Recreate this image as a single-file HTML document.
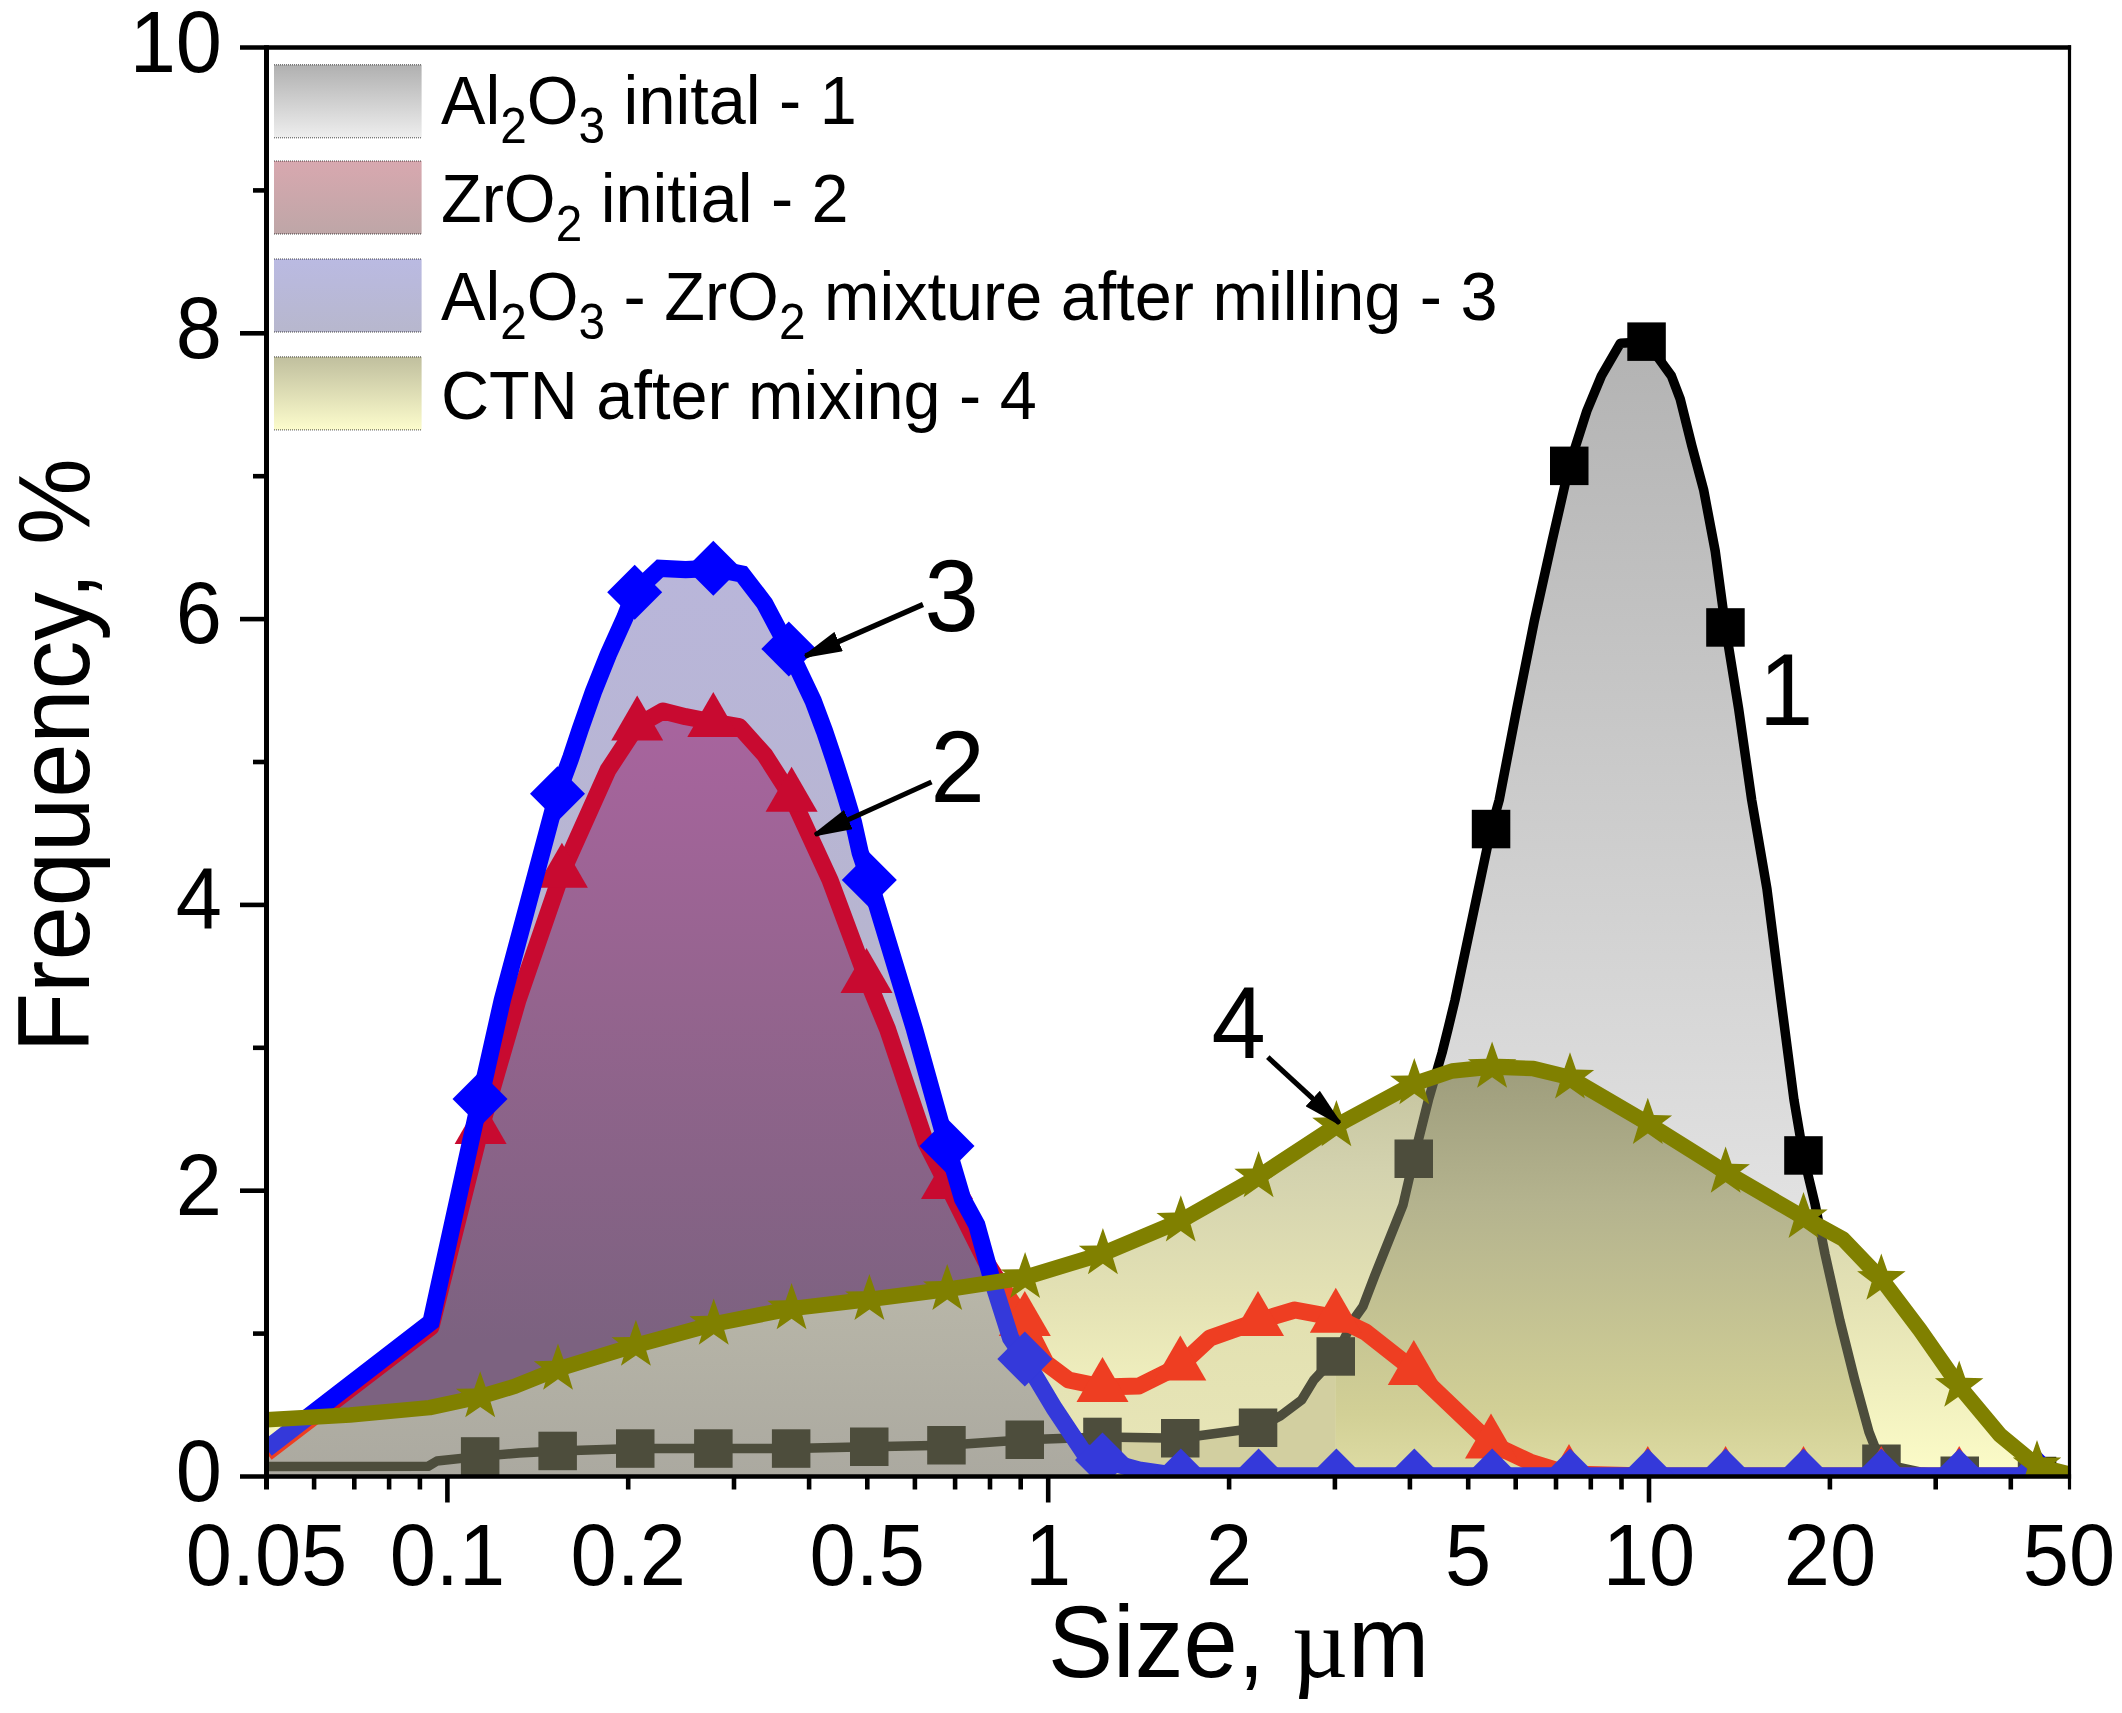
<!DOCTYPE html>
<html><head><meta charset="utf-8"><title>Particle size distribution</title>
<style>
html,body{margin:0;padding:0;background:#fff;}
body{width:2122px;height:1713px;overflow:hidden;}
svg{display:block;}
text{font-family:"Liberation Sans",sans-serif;fill:#000;}
.tk{font-size:83px;}
.lg{font-size:66.6px;}
.sb{font-size:47.7px;}
.an{font-size:97.5px;}
.mu{font-family:"Liberation Serif",serif;}
</style></head><body>
<svg width="2122" height="1713" viewBox="0 0 2122 1713">
<defs>
<clipPath id="plot"><rect x="266.5" y="47.5" width="1802.5" height="1429"/></clipPath>
<linearGradient id="g1" gradientUnits="userSpaceOnUse" x1="0" y1="342" x2="0" y2="1476"><stop offset="0" stop-color="#b3b3b3"/><stop offset="1" stop-color="#f0f0f0"/></linearGradient>
<linearGradient id="g2" gradientUnits="userSpaceOnUse" x1="0" y1="715" x2="0" y2="1340"><stop offset="0" stop-color="#a8649e"/><stop offset="0.46" stop-color="#94648e"/><stop offset="1" stop-color="#7c6280"/></linearGradient>
<linearGradient id="g3" gradientUnits="userSpaceOnUse" x1="0" y1="568" x2="0" y2="1300"><stop offset="0" stop-color="#b9b6da"/><stop offset="1" stop-color="#b5b4c6"/></linearGradient>
<linearGradient id="g4" gradientUnits="userSpaceOnUse" x1="0" y1="1067" x2="0" y2="1476"><stop offset="0" stop-color="#c4c39e"/><stop offset="0.25" stop-color="#d3d2ae"/><stop offset="0.57" stop-color="#e4e2b4"/><stop offset="1" stop-color="#fcfcc8"/></linearGradient>
<linearGradient id="g14" gradientUnits="userSpaceOnUse" x1="0" y1="1067" x2="0" y2="1476"><stop offset="0" stop-color="#9e9d7c"/><stop offset="0.33" stop-color="#b4b38e"/><stop offset="0.85" stop-color="#d2d096"/><stop offset="1" stop-color="#dedca4"/></linearGradient>
<linearGradient id="g2b" gradientUnits="userSpaceOnUse" x1="0" y1="1300" x2="0" y2="1476"><stop offset="0" stop-color="#e2e0b0"/><stop offset="1" stop-color="#e8e6b8"/></linearGradient>
<linearGradient id="g3b" gradientUnits="userSpaceOnUse" x1="0" y1="1290" x2="0" y2="1476"><stop offset="0" stop-color="#b8b6a8"/><stop offset="1" stop-color="#aba9a0"/></linearGradient>
<linearGradient id="l1" x1="0" y1="0" x2="0" y2="1"><stop offset="0" stop-color="#b0b0b0"/><stop offset="1" stop-color="#eeeeee"/></linearGradient>
<linearGradient id="l2" x1="0" y1="0" x2="0" y2="1"><stop offset="0" stop-color="#d8a8af"/><stop offset="1" stop-color="#bea6a7"/></linearGradient>
<linearGradient id="l3" x1="0" y1="0" x2="0" y2="1"><stop offset="0" stop-color="#babae2"/><stop offset="1" stop-color="#b7b7cd"/></linearGradient>
<linearGradient id="l4" x1="0" y1="0" x2="0" y2="1"><stop offset="0" stop-color="#c0bf9e"/><stop offset="1" stop-color="#fcfccc"/></linearGradient>
<marker id="ah" viewBox="0 0 37 21" refX="36" refY="10.5" markerWidth="37" markerHeight="21" markerUnits="userSpaceOnUse" orient="auto"><path d="M0,0 L37,9 L37,12 L0,21 Z" fill="#000"/></marker>
</defs>
<rect width="2122" height="1713" fill="#fff"/>

<defs>
<clipPath id="ab4"><path d="M266.5,42.5 L2074.0,42.5 L2069.0,1474.0 L2037.6,1466.0 L2000.0,1435.0 L1959.1,1386.0 L1920.0,1330.0 L1882.2,1280.0 L1843.0,1239.0 L1803.4,1217.4 L1725.5,1172.0 L1647.3,1123.0 L1569.1,1077.3 L1533.5,1068.6 L1491.1,1067.0 L1452.0,1071.0 L1413.8,1083.8 L1336.5,1125.5 L1258.0,1177.0 L1180.3,1221.0 L1102.0,1254.0 L1024.8,1277.5 L946.5,1289.5 L868.7,1299.5 L791.0,1308.6 L713.2,1324.2 L635.2,1345.4 L556.9,1369.4 L514.5,1386.4 L479.1,1397.0 L429.6,1407.6 L350.0,1415.0 L266.5,1419.7 Z"/></clipPath>
<clipPath id="be4"><path d="M266.5,1476.5 L266.5,1419.7 L350.0,1415.0 L429.6,1407.6 L479.1,1397.0 L514.5,1386.4 L556.9,1369.4 L635.2,1345.4 L713.2,1324.2 L791.0,1308.6 L868.7,1299.5 L946.5,1289.5 L1024.8,1277.5 L1102.0,1254.0 L1180.3,1221.0 L1258.0,1177.0 L1336.5,1125.5 L1413.8,1083.8 L1452.0,1071.0 L1491.1,1067.0 L1533.5,1068.6 L1569.1,1077.3 L1647.3,1123.0 L1725.5,1172.0 L1803.4,1217.4 L1843.0,1239.0 L1882.2,1280.0 L1920.0,1330.0 L1959.1,1386.0 L2000.0,1435.0 L2037.6,1466.0 L2069.0,1474.0 L2069.0,1476.5 Z"/></clipPath>
<clipPath id="in3"><path d="M266.5,1476.5 L266.5,1449.0 L431.0,1322.0 L480.0,1099.0 L502.3,1000.0 L557.5,793.7 L570.9,757.5 L580.2,729.4 L593.3,692.1 L608.2,654.7 L625.0,617.4 L634.7,592.3 L660.0,568.3 L685.6,569.7 L713.3,568.3 L742.0,574.0 L764.7,603.6 L776.0,625.0 L788.8,648.9 L798.7,670.4 L813.1,700.7 L824.5,731.1 L834.7,761.5 L844.3,791.8 L853.4,822.2 L860.2,852.6 L869.3,880.0 L914.6,1029.6 L947.0,1146.0 L962.6,1199.0 L976.7,1224.8 L990.8,1275.7 L1010.6,1338.0 L1024.8,1359.0 L1054.5,1408.6 L1082.7,1451.0 L1102.5,1460.0 L1139.0,1470.0 L1180.3,1476.0 L2069.0,1476.0 L2069.0,1476.5 Z"/></clipPath>
</defs>
<g clip-path="url(#plot)">
<g clip-path="url(#ab4)">
<path d="M266.5,1476.5 L266.5,1466.5 L428.0,1466.3 L437.0,1461.0 L480.2,1456.4 L519.0,1453.0 L557.6,1450.9 L635.3,1448.6 L713.4,1448.6 L791.1,1448.6 L869.3,1446.8 L946.5,1445.3 L1024.8,1439.7 L1102.5,1436.9 L1180.3,1438.3 L1258.0,1427.8 L1280.6,1415.7 L1301.6,1400.0 L1313.8,1380.0 L1335.7,1356.4 L1354.0,1319.0 L1362.9,1306.6 L1375.0,1275.0 L1389.0,1240.0 L1403.0,1205.0 L1413.7,1158.7 L1428.4,1100.0 L1442.0,1053.0 L1448.0,1029.0 L1455.0,1000.0 L1491.1,829.0 L1499.2,800.0 L1516.8,708.6 L1534.3,621.0 L1551.8,542.3 L1569.3,465.8 L1586.8,411.0 L1601.4,375.9 L1620.4,343.2 L1646.6,341.7 L1671.4,375.9 L1680.2,399.0 L1691.9,446.0 L1703.6,489.7 L1715.2,551.0 L1725.5,627.5 L1738.6,708.6 L1751.7,800.0 L1766.9,888.5 L1781.0,1000.0 L1794.0,1100.0 L1803.4,1155.5 L1815.0,1204.0 L1825.0,1254.0 L1840.0,1321.0 L1854.5,1379.0 L1869.0,1432.0 L1881.4,1463.7 L1920.0,1472.0 L1959.8,1475.7 L2037.0,1476.0 L2069.0,1476.0 L2069.0,1476.5 Z" fill="url(#g1)"/>
<path d="M266.5,1476.5 L266.5,1449.0 L431.0,1322.0 L480.0,1099.0 L502.3,1000.0 L557.5,793.7 L570.9,757.5 L580.2,729.4 L593.3,692.1 L608.2,654.7 L625.0,617.4 L634.7,592.3 L660.0,568.3 L685.6,569.7 L713.3,568.3 L742.0,574.0 L764.7,603.6 L776.0,625.0 L788.8,648.9 L798.7,670.4 L813.1,700.7 L824.5,731.1 L834.7,761.5 L844.3,791.8 L853.4,822.2 L860.2,852.6 L869.3,880.0 L914.6,1029.6 L947.0,1146.0 L962.6,1199.0 L976.7,1224.8 L990.8,1275.7 L1010.6,1338.0 L1024.8,1359.0 L1054.5,1408.6 L1082.7,1451.0 L1102.5,1460.0 L1139.0,1470.0 L1180.3,1476.0 L2069.0,1476.0 L2069.0,1476.5 Z" fill="url(#g3)"/>
<path d="M266.5,1476.5 L266.5,1453.0 L431.0,1327.0 L480.6,1129.0 L518.0,1000.0 L561.9,872.8 L608.0,770.0 L637.2,725.6 L663.0,711.0 L685.6,716.7 L713.3,722.0 L739.3,726.6 L764.7,754.9 L791.6,796.8 L830.0,880.0 L866.5,978.0 L887.7,1029.6 L925.8,1142.7 L947.0,1184.0 L985.0,1260.0 L1009.0,1298.0 L1024.8,1321.0 L1046.0,1363.0 L1068.6,1380.0 L1102.5,1387.0 L1139.0,1386.0 L1180.3,1365.5 L1210.0,1338.0 L1258.0,1321.0 L1294.8,1310.0 L1335.8,1317.7 L1365.5,1332.0 L1413.8,1370.0 L1491.0,1443.6 L1530.0,1462.0 L1569.0,1474.0 L1647.0,1476.0 L2069.0,1476.0 L2069.0,1476.5 Z" fill="url(#g2)"/>
</g>
<g clip-path="url(#be4)">
<path d="M266.5,1476.5 L266.5,1419.7 L350.0,1415.0 L429.6,1407.6 L479.1,1397.0 L514.5,1386.4 L556.9,1369.4 L635.2,1345.4 L713.2,1324.2 L791.0,1308.6 L868.7,1299.5 L946.5,1289.5 L1024.8,1277.5 L1102.0,1254.0 L1180.3,1221.0 L1258.0,1177.0 L1336.5,1125.5 L1413.8,1083.8 L1452.0,1071.0 L1491.1,1067.0 L1533.5,1068.6 L1569.1,1077.3 L1647.3,1123.0 L1725.5,1172.0 L1803.4,1217.4 L1843.0,1239.0 L1882.2,1280.0 L1920.0,1330.0 L1959.1,1386.0 L2000.0,1435.0 L2037.6,1466.0 L2069.0,1474.0 L2069.0,1476.5 Z" fill="url(#g4)"/>
<path d="M266.5,1476.5 L266.5,1453.0 L431.0,1327.0 L480.6,1129.0 L518.0,1000.0 L561.9,872.8 L608.0,770.0 L637.2,725.6 L663.0,711.0 L685.6,716.7 L713.3,722.0 L739.3,726.6 L764.7,754.9 L791.6,796.8 L830.0,880.0 L866.5,978.0 L887.7,1029.6 L925.8,1142.7 L947.0,1184.0 L985.0,1260.0 L1009.0,1298.0 L1024.8,1321.0 L1046.0,1363.0 L1068.6,1380.0 L1102.5,1387.0 L1139.0,1386.0 L1180.3,1365.5 L1210.0,1338.0 L1258.0,1321.0 L1294.8,1310.0 L1335.8,1317.7 L1365.5,1332.0 L1413.8,1370.0 L1491.0,1443.6 L1530.0,1462.0 L1569.0,1474.0 L1647.0,1476.0 L2069.0,1476.0 L2069.0,1476.5 Z" fill="url(#g2b)"/>
<path d="M266.5,1476.5 L266.5,1449.0 L431.0,1322.0 L480.0,1099.0 L502.3,1000.0 L557.5,793.7 L570.9,757.5 L580.2,729.4 L593.3,692.1 L608.2,654.7 L625.0,617.4 L634.7,592.3 L660.0,568.3 L685.6,569.7 L713.3,568.3 L742.0,574.0 L764.7,603.6 L776.0,625.0 L788.8,648.9 L798.7,670.4 L813.1,700.7 L824.5,731.1 L834.7,761.5 L844.3,791.8 L853.4,822.2 L860.2,852.6 L869.3,880.0 L914.6,1029.6 L947.0,1146.0 L962.6,1199.0 L976.7,1224.8 L990.8,1275.7 L1010.6,1338.0 L1024.8,1359.0 L1054.5,1408.6 L1082.7,1451.0 L1102.5,1460.0 L1139.0,1470.0 L1180.3,1476.0 L2069.0,1476.0 L2069.0,1476.5 Z" fill="url(#g3b)"/>
<path d="M1102.5,1476.5 L1102.5,1436.9 L1180.3,1438.3 L1258.0,1427.8 L1280.6,1415.7 L1301.6,1400.0 L1313.8,1380.0 L1335.7,1356.4 L1335.7,1476.5 Z" fill="#d2cfa0"/>
<path d="M1335.7,1476.5 L1335.7,1356.4 L1354.0,1319.0 L1362.9,1306.6 L1375.0,1275.0 L1389.0,1240.0 L1403.0,1205.0 L1413.7,1158.7 L1428.4,1100.0 L1442.0,1053.0 L1448.0,1029.0 L1455.0,1000.0 L1491.1,829.0 L1499.2,800.0 L1516.8,708.6 L1534.3,621.0 L1551.8,542.3 L1569.3,465.8 L1586.8,411.0 L1601.4,375.9 L1620.4,343.2 L1646.6,341.7 L1671.4,375.9 L1680.2,399.0 L1691.9,446.0 L1703.6,489.7 L1715.2,551.0 L1725.5,627.5 L1738.6,708.6 L1751.7,800.0 L1766.9,888.5 L1781.0,1000.0 L1794.0,1100.0 L1803.4,1155.5 L1815.0,1204.0 L1825.0,1254.0 L1840.0,1321.0 L1854.5,1379.0 L1869.0,1432.0 L1881.4,1463.7 L1920.0,1472.0 L1959.8,1475.7 L2037.0,1476.0 L2069.0,1476.0 L2069.0,1476.5 Z" fill="url(#g14)"/>
</g>
<g clip-path="url(#ab4)">
<polyline points="266.5,1466.5 428.0,1466.3 437.0,1461.0 480.2,1456.4 519.0,1453.0 557.6,1450.9 635.3,1448.6 713.4,1448.6 791.1,1448.6 869.3,1446.8 946.5,1445.3 1024.8,1439.7 1102.5,1436.9 1180.3,1438.3 1258.0,1427.8 1280.6,1415.7 1301.6,1400.0 1313.8,1380.0 1335.7,1356.4 1354.0,1319.0 1362.9,1306.6 1375.0,1275.0 1389.0,1240.0 1403.0,1205.0 1413.7,1158.7 1428.4,1100.0 1442.0,1053.0 1448.0,1029.0 1455.0,1000.0 1491.1,829.0 1499.2,800.0 1516.8,708.6 1534.3,621.0 1551.8,542.3 1569.3,465.8 1586.8,411.0 1601.4,375.9 1620.4,343.2 1646.6,341.7 1671.4,375.9 1680.2,399.0 1691.9,446.0 1703.6,489.7 1715.2,551.0 1725.5,627.5 1738.6,708.6 1751.7,800.0 1766.9,888.5 1781.0,1000.0 1794.0,1100.0 1803.4,1155.5 1815.0,1204.0 1825.0,1254.0 1840.0,1321.0 1854.5,1379.0 1869.0,1432.0 1881.4,1463.7 1920.0,1472.0 1959.8,1475.7 2037.0,1476.0 2069.0,1476.0" fill="none" stroke="#000000" stroke-width="9.5" stroke-linejoin="round"/>
<rect x="460.9" y="1437.2" width="38.5" height="38.5" fill="#000000"/>
<rect x="538.4" y="1431.7" width="38.5" height="38.5" fill="#000000"/>
<rect x="616.0" y="1429.3" width="38.5" height="38.5" fill="#000000"/>
<rect x="694.1" y="1429.3" width="38.5" height="38.5" fill="#000000"/>
<rect x="771.9" y="1429.3" width="38.5" height="38.5" fill="#000000"/>
<rect x="850.0" y="1427.5" width="38.5" height="38.5" fill="#000000"/>
<rect x="927.2" y="1426.0" width="38.5" height="38.5" fill="#000000"/>
<rect x="1005.5" y="1420.5" width="38.5" height="38.5" fill="#000000"/>
<rect x="1083.2" y="1417.7" width="38.5" height="38.5" fill="#000000"/>
<rect x="1161.0" y="1419.0" width="38.5" height="38.5" fill="#000000"/>
<rect x="1238.8" y="1408.5" width="38.5" height="38.5" fill="#000000"/>
<rect x="1316.5" y="1337.2" width="38.5" height="38.5" fill="#000000"/>
<rect x="1394.5" y="1139.5" width="38.5" height="38.5" fill="#000000"/>
<rect x="1471.8" y="809.8" width="38.5" height="38.5" fill="#000000"/>
<rect x="1550.0" y="446.6" width="38.5" height="38.5" fill="#000000"/>
<rect x="1627.3" y="322.4" width="38.5" height="38.5" fill="#000000"/>
<rect x="1706.2" y="608.2" width="38.5" height="38.5" fill="#000000"/>
<rect x="1784.2" y="1136.2" width="38.5" height="38.5" fill="#000000"/>
<rect x="1862.2" y="1444.5" width="38.5" height="38.5" fill="#000000"/>
<rect x="1940.5" y="1456.5" width="38.5" height="38.5" fill="#000000"/>
<rect x="2017.8" y="1456.8" width="38.5" height="38.5" fill="#000000"/>
<polyline points="266.5,1453.0 431.0,1327.0 480.6,1129.0 518.0,1000.0 561.9,872.8 608.0,770.0 637.2,725.6 663.0,711.0 685.6,716.7 713.3,722.0 739.3,726.6 764.7,754.9 791.6,796.8 830.0,880.0 866.5,978.0 887.7,1029.6 925.8,1142.7 947.0,1184.0 985.0,1260.0 1009.0,1298.0 1024.8,1321.0 1046.0,1363.0 1068.6,1380.0 1102.5,1387.0 1139.0,1386.0 1180.3,1365.5 1210.0,1338.0 1258.0,1321.0 1294.8,1310.0 1335.8,1317.7 1365.5,1332.0 1413.8,1370.0 1491.0,1443.6 1530.0,1462.0 1569.0,1474.0 1647.0,1476.0 2069.0,1476.0" fill="none" stroke="#c80a30" stroke-width="17" stroke-linejoin="round"/>
<polygon points="480.6,1099.0 454.6,1144.0 506.6,1144.0" fill="#c80a30"/>
<polygon points="561.9,842.8 535.9,887.8 587.9,887.8" fill="#c80a30"/>
<polygon points="637.2,695.6 611.2,740.6 663.2,740.6" fill="#c80a30"/>
<polygon points="713.3,692.0 687.3,737.0 739.3,737.0" fill="#c80a30"/>
<polygon points="791.6,766.8 765.6,811.8 817.6,811.8" fill="#c80a30"/>
<polygon points="866.5,948.0 840.5,993.0 892.5,993.0" fill="#c80a30"/>
<polygon points="947.0,1154.0 921.0,1199.0 973.0,1199.0" fill="#c80a30"/>
<polygon points="1024.8,1291.0 998.8,1336.0 1050.8,1336.0" fill="#c80a30"/>
<polygon points="1102.5,1357.0 1076.5,1402.0 1128.5,1402.0" fill="#c80a30"/>
<polygon points="1180.3,1335.5 1154.3,1380.5 1206.3,1380.5" fill="#c80a30"/>
<polygon points="1258.0,1291.0 1232.0,1336.0 1284.0,1336.0" fill="#c80a30"/>
<polygon points="1335.8,1287.7 1309.8,1332.7 1361.8,1332.7" fill="#c80a30"/>
<polygon points="1413.8,1340.0 1387.8,1385.0 1439.8,1385.0" fill="#c80a30"/>
<polygon points="1491.0,1413.6 1465.0,1458.6 1517.0,1458.6" fill="#c80a30"/>
<polygon points="1569.0,1444.0 1543.0,1489.0 1595.0,1489.0" fill="#c80a30"/>
<polygon points="1647.8,1446.0 1621.8,1491.0 1673.8,1491.0" fill="#c80a30"/>
<polygon points="1725.6,1446.0 1699.6,1491.0 1751.6,1491.0" fill="#c80a30"/>
<polygon points="1803.5,1446.0 1777.5,1491.0 1829.5,1491.0" fill="#c80a30"/>
<polygon points="1881.3,1446.0 1855.3,1491.0 1907.3,1491.0" fill="#c80a30"/>
<polygon points="1959.2,1446.0 1933.2,1491.0 1985.2,1491.0" fill="#c80a30"/>
<polygon points="2037.0,1446.0 2011.0,1491.0 2063.0,1491.0" fill="#c80a30"/>
<polyline points="266.5,1449.0 431.0,1322.0 480.0,1099.0 502.3,1000.0 557.5,793.7 570.9,757.5 580.2,729.4 593.3,692.1 608.2,654.7 625.0,617.4 634.7,592.3 660.0,568.3 685.6,569.7 713.3,568.3 742.0,574.0 764.7,603.6 776.0,625.0 788.8,648.9 798.7,670.4 813.1,700.7 824.5,731.1 834.7,761.5 844.3,791.8 853.4,822.2 860.2,852.6 869.3,880.0 914.6,1029.6 947.0,1146.0 962.6,1199.0 976.7,1224.8 990.8,1275.7 1010.6,1338.0 1024.8,1359.0 1054.5,1408.6 1082.7,1451.0 1102.5,1460.0 1139.0,1470.0 1180.3,1476.0 2069.0,1476.0" fill="none" stroke="#0000ff" stroke-width="17.3" stroke-linejoin="miter"/>
<polygon points="480.0,1071.5 507.5,1099.0 480.0,1126.5 452.5,1099.0" fill="#0000ff"/>
<polygon points="557.5,766.2 585.0,793.7 557.5,821.2 530.0,793.7" fill="#0000ff"/>
<polygon points="634.7,564.8 662.2,592.3 634.7,619.8 607.2,592.3" fill="#0000ff"/>
<polygon points="713.3,540.8 740.8,568.3 713.3,595.8 685.8,568.3" fill="#0000ff"/>
<polygon points="788.8,621.4 816.3,648.9 788.8,676.4 761.3,648.9" fill="#0000ff"/>
<polygon points="869.3,852.5 896.8,880.0 869.3,907.5 841.8,880.0" fill="#0000ff"/>
<polygon points="947.0,1118.5 974.5,1146.0 947.0,1173.5 919.5,1146.0" fill="#0000ff"/>
<polygon points="1024.8,1331.5 1052.3,1359.0 1024.8,1386.5 997.3,1359.0" fill="#0000ff"/>
<polygon points="1102.5,1432.5 1130.0,1460.0 1102.5,1487.5 1075.0,1460.0" fill="#0000ff"/>
<polygon points="1180.8,1448.5 1208.3,1476.0 1180.8,1503.5 1153.3,1476.0" fill="#0000ff"/>
<polygon points="1258.6,1448.5 1286.1,1476.0 1258.6,1503.5 1231.1,1476.0" fill="#0000ff"/>
<polygon points="1336.4,1448.5 1363.9,1476.0 1336.4,1503.5 1308.9,1476.0" fill="#0000ff"/>
<polygon points="1414.3,1448.5 1441.8,1476.0 1414.3,1503.5 1386.8,1476.0" fill="#0000ff"/>
<polygon points="1492.1,1448.5 1519.6,1476.0 1492.1,1503.5 1464.6,1476.0" fill="#0000ff"/>
<polygon points="1570.0,1448.5 1597.5,1476.0 1570.0,1503.5 1542.5,1476.0" fill="#0000ff"/>
<polygon points="1647.8,1448.5 1675.3,1476.0 1647.8,1503.5 1620.3,1476.0" fill="#0000ff"/>
<polygon points="1725.6,1448.5 1753.1,1476.0 1725.6,1503.5 1698.1,1476.0" fill="#0000ff"/>
<polygon points="1803.5,1448.5 1831.0,1476.0 1803.5,1503.5 1776.0,1476.0" fill="#0000ff"/>
<polygon points="1881.3,1448.5 1908.8,1476.0 1881.3,1503.5 1853.8,1476.0" fill="#0000ff"/>
<polygon points="1959.2,1448.5 1986.7,1476.0 1959.2,1503.5 1931.7,1476.0" fill="#0000ff"/>
<polygon points="2037.0,1448.5 2064.5,1476.0 2037.0,1503.5 2009.5,1476.0" fill="#0000ff"/>
</g>
<g clip-path="url(#be4)">
<polyline points="266.5,1466.5 428.0,1466.3 437.0,1461.0 480.2,1456.4 519.0,1453.0 557.6,1450.9 635.3,1448.6 713.4,1448.6 791.1,1448.6 869.3,1446.8 946.5,1445.3 1024.8,1439.7 1102.5,1436.9 1180.3,1438.3 1258.0,1427.8 1280.6,1415.7 1301.6,1400.0 1313.8,1380.0 1335.7,1356.4 1354.0,1319.0 1362.9,1306.6 1375.0,1275.0 1389.0,1240.0 1403.0,1205.0 1413.7,1158.7 1428.4,1100.0 1442.0,1053.0 1448.0,1029.0 1455.0,1000.0 1491.1,829.0 1499.2,800.0 1516.8,708.6 1534.3,621.0 1551.8,542.3 1569.3,465.8 1586.8,411.0 1601.4,375.9 1620.4,343.2 1646.6,341.7 1671.4,375.9 1680.2,399.0 1691.9,446.0 1703.6,489.7 1715.2,551.0 1725.5,627.5 1738.6,708.6 1751.7,800.0 1766.9,888.5 1781.0,1000.0 1794.0,1100.0 1803.4,1155.5 1815.0,1204.0 1825.0,1254.0 1840.0,1321.0 1854.5,1379.0 1869.0,1432.0 1881.4,1463.7 1920.0,1472.0 1959.8,1475.7 2037.0,1476.0 2069.0,1476.0" fill="none" stroke="#4d4d3c" stroke-width="9.5" stroke-linejoin="round"/>
<rect x="460.9" y="1437.2" width="38.5" height="38.5" fill="#4d4d3c"/>
<rect x="538.4" y="1431.7" width="38.5" height="38.5" fill="#4d4d3c"/>
<rect x="616.0" y="1429.3" width="38.5" height="38.5" fill="#4d4d3c"/>
<rect x="694.1" y="1429.3" width="38.5" height="38.5" fill="#4d4d3c"/>
<rect x="771.9" y="1429.3" width="38.5" height="38.5" fill="#4d4d3c"/>
<rect x="850.0" y="1427.5" width="38.5" height="38.5" fill="#4d4d3c"/>
<rect x="927.2" y="1426.0" width="38.5" height="38.5" fill="#4d4d3c"/>
<rect x="1005.5" y="1420.5" width="38.5" height="38.5" fill="#4d4d3c"/>
<rect x="1083.2" y="1417.7" width="38.5" height="38.5" fill="#4d4d3c"/>
<rect x="1161.0" y="1419.0" width="38.5" height="38.5" fill="#4d4d3c"/>
<rect x="1238.8" y="1408.5" width="38.5" height="38.5" fill="#4d4d3c"/>
<rect x="1316.5" y="1337.2" width="38.5" height="38.5" fill="#4d4d3c"/>
<rect x="1394.5" y="1139.5" width="38.5" height="38.5" fill="#4d4d3c"/>
<rect x="1471.8" y="809.8" width="38.5" height="38.5" fill="#4d4d3c"/>
<rect x="1550.0" y="446.6" width="38.5" height="38.5" fill="#4d4d3c"/>
<rect x="1627.3" y="322.4" width="38.5" height="38.5" fill="#4d4d3c"/>
<rect x="1706.2" y="608.2" width="38.5" height="38.5" fill="#4d4d3c"/>
<rect x="1784.2" y="1136.2" width="38.5" height="38.5" fill="#4d4d3c"/>
<rect x="1862.2" y="1444.5" width="38.5" height="38.5" fill="#4d4d3c"/>
<rect x="1940.5" y="1456.5" width="38.5" height="38.5" fill="#4d4d3c"/>
<rect x="2017.8" y="1456.8" width="38.5" height="38.5" fill="#4d4d3c"/>
<polyline points="266.5,1453.0 431.0,1327.0 480.6,1129.0 518.0,1000.0 561.9,872.8 608.0,770.0 637.2,725.6 663.0,711.0 685.6,716.7 713.3,722.0 739.3,726.6 764.7,754.9 791.6,796.8 830.0,880.0 866.5,978.0 887.7,1029.6 925.8,1142.7 947.0,1184.0 985.0,1260.0 1009.0,1298.0 1024.8,1321.0 1046.0,1363.0 1068.6,1380.0 1102.5,1387.0 1139.0,1386.0 1180.3,1365.5 1210.0,1338.0 1258.0,1321.0 1294.8,1310.0 1335.8,1317.7 1365.5,1332.0 1413.8,1370.0 1491.0,1443.6 1530.0,1462.0 1569.0,1474.0 1647.0,1476.0 2069.0,1476.0" fill="none" stroke="#ee3e22" stroke-width="17" stroke-linejoin="round"/>
<polygon points="480.6,1099.0 454.6,1144.0 506.6,1144.0" fill="#ee3e22"/>
<polygon points="561.9,842.8 535.9,887.8 587.9,887.8" fill="#ee3e22"/>
<polygon points="637.2,695.6 611.2,740.6 663.2,740.6" fill="#ee3e22"/>
<polygon points="713.3,692.0 687.3,737.0 739.3,737.0" fill="#ee3e22"/>
<polygon points="791.6,766.8 765.6,811.8 817.6,811.8" fill="#ee3e22"/>
<polygon points="866.5,948.0 840.5,993.0 892.5,993.0" fill="#ee3e22"/>
<polygon points="947.0,1154.0 921.0,1199.0 973.0,1199.0" fill="#ee3e22"/>
<polygon points="1024.8,1291.0 998.8,1336.0 1050.8,1336.0" fill="#ee3e22"/>
<polygon points="1102.5,1357.0 1076.5,1402.0 1128.5,1402.0" fill="#ee3e22"/>
<polygon points="1180.3,1335.5 1154.3,1380.5 1206.3,1380.5" fill="#ee3e22"/>
<polygon points="1258.0,1291.0 1232.0,1336.0 1284.0,1336.0" fill="#ee3e22"/>
<polygon points="1335.8,1287.7 1309.8,1332.7 1361.8,1332.7" fill="#ee3e22"/>
<polygon points="1413.8,1340.0 1387.8,1385.0 1439.8,1385.0" fill="#ee3e22"/>
<polygon points="1491.0,1413.6 1465.0,1458.6 1517.0,1458.6" fill="#ee3e22"/>
<polygon points="1569.0,1444.0 1543.0,1489.0 1595.0,1489.0" fill="#ee3e22"/>
<polygon points="1647.8,1446.0 1621.8,1491.0 1673.8,1491.0" fill="#ee3e22"/>
<polygon points="1725.6,1446.0 1699.6,1491.0 1751.6,1491.0" fill="#ee3e22"/>
<polygon points="1803.5,1446.0 1777.5,1491.0 1829.5,1491.0" fill="#ee3e22"/>
<polygon points="1881.3,1446.0 1855.3,1491.0 1907.3,1491.0" fill="#ee3e22"/>
<polygon points="1959.2,1446.0 1933.2,1491.0 1985.2,1491.0" fill="#ee3e22"/>
<polygon points="2037.0,1446.0 2011.0,1491.0 2063.0,1491.0" fill="#ee3e22"/>
<polyline points="266.5,1449.0 431.0,1322.0 480.0,1099.0 502.3,1000.0 557.5,793.7 570.9,757.5 580.2,729.4 593.3,692.1 608.2,654.7 625.0,617.4 634.7,592.3 660.0,568.3 685.6,569.7 713.3,568.3 742.0,574.0 764.7,603.6 776.0,625.0 788.8,648.9 798.7,670.4 813.1,700.7 824.5,731.1 834.7,761.5 844.3,791.8 853.4,822.2 860.2,852.6 869.3,880.0 914.6,1029.6 947.0,1146.0 962.6,1199.0 976.7,1224.8 990.8,1275.7 1010.6,1338.0 1024.8,1359.0 1054.5,1408.6 1082.7,1451.0 1102.5,1460.0 1139.0,1470.0 1180.3,1476.0 2069.0,1476.0" fill="none" stroke="#3439da" stroke-width="17.3" stroke-linejoin="miter"/>
<polygon points="480.0,1071.5 507.5,1099.0 480.0,1126.5 452.5,1099.0" fill="#3439da"/>
<polygon points="557.5,766.2 585.0,793.7 557.5,821.2 530.0,793.7" fill="#3439da"/>
<polygon points="634.7,564.8 662.2,592.3 634.7,619.8 607.2,592.3" fill="#3439da"/>
<polygon points="713.3,540.8 740.8,568.3 713.3,595.8 685.8,568.3" fill="#3439da"/>
<polygon points="788.8,621.4 816.3,648.9 788.8,676.4 761.3,648.9" fill="#3439da"/>
<polygon points="869.3,852.5 896.8,880.0 869.3,907.5 841.8,880.0" fill="#3439da"/>
<polygon points="947.0,1118.5 974.5,1146.0 947.0,1173.5 919.5,1146.0" fill="#3439da"/>
<polygon points="1024.8,1331.5 1052.3,1359.0 1024.8,1386.5 997.3,1359.0" fill="#3439da"/>
<polygon points="1102.5,1432.5 1130.0,1460.0 1102.5,1487.5 1075.0,1460.0" fill="#3439da"/>
<polygon points="1180.8,1448.5 1208.3,1476.0 1180.8,1503.5 1153.3,1476.0" fill="#3439da"/>
<polygon points="1258.6,1448.5 1286.1,1476.0 1258.6,1503.5 1231.1,1476.0" fill="#3439da"/>
<polygon points="1336.4,1448.5 1363.9,1476.0 1336.4,1503.5 1308.9,1476.0" fill="#3439da"/>
<polygon points="1414.3,1448.5 1441.8,1476.0 1414.3,1503.5 1386.8,1476.0" fill="#3439da"/>
<polygon points="1492.1,1448.5 1519.6,1476.0 1492.1,1503.5 1464.6,1476.0" fill="#3439da"/>
<polygon points="1570.0,1448.5 1597.5,1476.0 1570.0,1503.5 1542.5,1476.0" fill="#3439da"/>
<polygon points="1647.8,1448.5 1675.3,1476.0 1647.8,1503.5 1620.3,1476.0" fill="#3439da"/>
<polygon points="1725.6,1448.5 1753.1,1476.0 1725.6,1503.5 1698.1,1476.0" fill="#3439da"/>
<polygon points="1803.5,1448.5 1831.0,1476.0 1803.5,1503.5 1776.0,1476.0" fill="#3439da"/>
<polygon points="1881.3,1448.5 1908.8,1476.0 1881.3,1503.5 1853.8,1476.0" fill="#3439da"/>
<polygon points="1959.2,1448.5 1986.7,1476.0 1959.2,1503.5 1931.7,1476.0" fill="#3439da"/>
<polygon points="2037.0,1448.5 2064.5,1476.0 2037.0,1503.5 2009.5,1476.0" fill="#3439da"/>
</g>
<polyline points="266.5,1419.7 350.0,1415.0 429.6,1407.6 479.1,1397.0 514.5,1386.4 556.9,1369.4 635.2,1345.4 713.2,1324.2 791.0,1308.6 868.7,1299.5 946.5,1289.5 1024.8,1277.5 1102.0,1254.0 1180.3,1221.0 1258.0,1177.0 1336.5,1125.5 1413.8,1083.8 1452.0,1071.0 1491.1,1067.0 1533.5,1068.6 1569.1,1077.3 1647.3,1123.0 1725.5,1172.0 1803.4,1217.4 1843.0,1239.0 1882.2,1280.0 1920.0,1330.0 1959.1,1386.0 2000.0,1435.0 2037.6,1466.0 2069.0,1474.0" fill="none" stroke="#808000" stroke-width="15.5" stroke-linejoin="round"/>
<polygon points="480.2,1371.2 486.2,1388.4 504.5,1388.8 489.9,1399.8 495.2,1417.3 480.2,1406.9 465.2,1417.3 470.5,1399.8 455.9,1388.8 474.2,1388.4" fill="#808000"/>
<polygon points="558.0,1343.6 564.0,1360.8 582.3,1361.2 567.7,1372.2 573.0,1389.7 558.0,1379.3 543.1,1389.7 548.3,1372.2 533.8,1361.2 552.0,1360.8" fill="#808000"/>
<polygon points="635.9,1319.7 641.9,1337.0 660.1,1337.3 645.6,1348.4 650.9,1365.8 635.9,1355.4 620.9,1365.8 626.2,1348.4 611.6,1337.3 629.9,1337.0" fill="#808000"/>
<polygon points="713.7,1298.6 719.7,1315.8 738.0,1316.2 723.4,1327.2 728.7,1344.7 713.7,1334.3 698.7,1344.7 704.0,1327.2 689.5,1316.2 707.7,1315.8" fill="#808000"/>
<polygon points="791.6,1283.0 797.6,1300.3 815.8,1300.7 801.3,1311.7 806.5,1329.2 791.6,1318.7 776.6,1329.2 781.9,1311.7 767.3,1300.7 785.6,1300.3" fill="#808000"/>
<polygon points="869.4,1273.9 875.4,1291.2 893.7,1291.5 879.1,1302.6 884.4,1320.0 869.4,1309.6 854.4,1320.0 859.7,1302.6 845.1,1291.5 863.4,1291.2" fill="#808000"/>
<polygon points="947.2,1263.9 953.2,1281.1 971.5,1281.5 956.9,1292.5 962.2,1310.0 947.2,1299.6 932.3,1310.0 937.5,1292.5 923.0,1281.5 941.2,1281.1" fill="#808000"/>
<polygon points="1025.1,1251.9 1031.1,1269.2 1049.3,1269.5 1034.8,1280.6 1040.1,1298.0 1025.1,1287.6 1010.1,1298.0 1015.4,1280.6 1000.8,1269.5 1019.1,1269.2" fill="#808000"/>
<polygon points="1102.9,1228.1 1108.9,1245.4 1127.2,1245.7 1112.6,1256.8 1117.9,1274.2 1102.9,1263.8 1087.9,1274.2 1093.2,1256.8 1078.7,1245.7 1096.9,1245.4" fill="#808000"/>
<polygon points="1180.8,1195.2 1186.8,1212.5 1205.0,1212.9 1190.5,1223.9 1195.7,1241.4 1180.8,1230.9 1165.8,1241.4 1171.1,1223.9 1156.5,1212.9 1174.8,1212.5" fill="#808000"/>
<polygon points="1258.6,1151.1 1264.6,1168.4 1282.9,1168.7 1268.3,1179.8 1273.6,1197.2 1258.6,1186.8 1243.6,1197.2 1248.9,1179.8 1234.3,1168.7 1252.6,1168.4" fill="#808000"/>
<polygon points="1336.4,1100.0 1342.4,1117.3 1360.7,1117.7 1346.1,1128.7 1351.4,1146.2 1336.4,1135.7 1321.5,1146.2 1326.7,1128.7 1312.2,1117.7 1330.4,1117.3" fill="#808000"/>
<polygon points="1414.3,1058.1 1420.3,1075.4 1438.5,1075.8 1424.0,1086.8 1429.3,1104.3 1414.3,1093.8 1399.3,1104.3 1404.6,1086.8 1390.0,1075.8 1408.3,1075.4" fill="#808000"/>
<polygon points="1492.1,1041.5 1498.1,1058.8 1516.4,1059.2 1501.8,1070.2 1507.1,1087.7 1492.1,1077.2 1477.1,1087.7 1482.4,1070.2 1467.9,1059.2 1486.1,1058.8" fill="#808000"/>
<polygon points="1570.0,1052.3 1576.0,1069.6 1594.2,1069.9 1579.7,1081.0 1584.9,1098.4 1570.0,1088.0 1555.0,1098.4 1560.3,1081.0 1545.7,1069.9 1564.0,1069.6" fill="#808000"/>
<polygon points="1647.8,1097.8 1653.8,1115.1 1672.1,1115.4 1657.5,1126.5 1662.8,1143.9 1647.8,1133.5 1632.8,1143.9 1638.1,1126.5 1623.5,1115.4 1641.8,1115.1" fill="#808000"/>
<polygon points="1725.6,1146.6 1731.6,1163.8 1749.9,1164.2 1735.3,1175.2 1740.6,1192.7 1725.6,1182.3 1710.7,1192.7 1715.9,1175.2 1701.4,1164.2 1719.6,1163.8" fill="#808000"/>
<polygon points="1803.5,1191.9 1809.5,1209.2 1827.7,1209.6 1813.2,1220.6 1818.5,1238.1 1803.5,1227.6 1788.5,1238.1 1793.8,1220.6 1779.2,1209.6 1797.5,1209.2" fill="#808000"/>
<polygon points="1881.3,1253.6 1887.3,1270.8 1905.6,1271.2 1891.0,1282.2 1896.3,1299.7 1881.3,1289.3 1866.3,1299.7 1871.6,1282.2 1857.1,1271.2 1875.3,1270.8" fill="#808000"/>
<polygon points="1959.2,1360.6 1965.2,1377.8 1983.4,1378.2 1968.9,1389.2 1974.1,1406.7 1959.2,1396.3 1944.2,1406.7 1949.5,1389.2 1934.9,1378.2 1953.2,1377.8" fill="#808000"/>
<polygon points="2037.0,1440.0 2043.0,1457.3 2061.3,1457.6 2046.7,1468.7 2052.0,1486.1 2037.0,1475.7 2022.0,1486.1 2027.3,1468.7 2012.7,1457.6 2031.0,1457.3" fill="#808000"/>
</g>
<g stroke="#000" fill="none">
<line x1="240" y1="47.5" x2="2071.1" y2="47.5" stroke-width="4.6"/>
<line x1="240" y1="1476.5" x2="2071.1" y2="1476.5" stroke-width="4.6"/>
<line x1="266.5" y1="45.2" x2="266.5" y2="1489.5" stroke-width="5"/>
<line x1="2069.5" y1="45.2" x2="2069.5" y2="1489.5" stroke-width="3.2"/>
<line x1="253" y1="1333.6" x2="266.5" y2="1333.6" stroke-width="4.6"/>
<line x1="240" y1="1190.7" x2="266.5" y2="1190.7" stroke-width="4.6"/>
<line x1="253" y1="1047.8" x2="266.5" y2="1047.8" stroke-width="4.6"/>
<line x1="240" y1="904.9" x2="266.5" y2="904.9" stroke-width="4.6"/>
<line x1="253" y1="762.0" x2="266.5" y2="762.0" stroke-width="4.6"/>
<line x1="240" y1="619.1" x2="266.5" y2="619.1" stroke-width="4.6"/>
<line x1="253" y1="476.2" x2="266.5" y2="476.2" stroke-width="4.6"/>
<line x1="240" y1="333.3" x2="266.5" y2="333.3" stroke-width="4.6"/>
<line x1="253" y1="190.4" x2="266.5" y2="190.4" stroke-width="4.6"/>
<line x1="447.4" y1="1476.5" x2="447.4" y2="1502.5" stroke-width="4.6"/>
<line x1="1048.2" y1="1476.5" x2="1048.2" y2="1502.5" stroke-width="4.6"/>
<line x1="1649.0" y1="1476.5" x2="1649.0" y2="1502.5" stroke-width="4.6"/>
<line x1="314.1" y1="1476.5" x2="314.1" y2="1489.5" stroke-width="4.6"/>
<line x1="354.3" y1="1476.5" x2="354.3" y2="1489.5" stroke-width="4.6"/>
<line x1="389.1" y1="1476.5" x2="389.1" y2="1489.5" stroke-width="4.6"/>
<line x1="419.9" y1="1476.5" x2="419.9" y2="1489.5" stroke-width="4.6"/>
<line x1="628.2" y1="1476.5" x2="628.2" y2="1489.5" stroke-width="4.6"/>
<line x1="734.0" y1="1476.5" x2="734.0" y2="1489.5" stroke-width="4.6"/>
<line x1="809.1" y1="1476.5" x2="809.1" y2="1489.5" stroke-width="4.6"/>
<line x1="867.3" y1="1476.5" x2="867.3" y2="1489.5" stroke-width="4.6"/>
<line x1="914.9" y1="1476.5" x2="914.9" y2="1489.5" stroke-width="4.6"/>
<line x1="955.1" y1="1476.5" x2="955.1" y2="1489.5" stroke-width="4.6"/>
<line x1="990.0" y1="1476.5" x2="990.0" y2="1489.5" stroke-width="4.6"/>
<line x1="1020.7" y1="1476.5" x2="1020.7" y2="1489.5" stroke-width="4.6"/>
<line x1="1229.1" y1="1476.5" x2="1229.1" y2="1489.5" stroke-width="4.6"/>
<line x1="1334.9" y1="1476.5" x2="1334.9" y2="1489.5" stroke-width="4.6"/>
<line x1="1409.9" y1="1476.5" x2="1409.9" y2="1489.5" stroke-width="4.6"/>
<line x1="1468.2" y1="1476.5" x2="1468.2" y2="1489.5" stroke-width="4.6"/>
<line x1="1515.7" y1="1476.5" x2="1515.7" y2="1489.5" stroke-width="4.6"/>
<line x1="1556.0" y1="1476.5" x2="1556.0" y2="1489.5" stroke-width="4.6"/>
<line x1="1590.8" y1="1476.5" x2="1590.8" y2="1489.5" stroke-width="4.6"/>
<line x1="1621.5" y1="1476.5" x2="1621.5" y2="1489.5" stroke-width="4.6"/>
<line x1="1829.9" y1="1476.5" x2="1829.9" y2="1489.5" stroke-width="4.6"/>
<line x1="1935.7" y1="1476.5" x2="1935.7" y2="1489.5" stroke-width="4.6"/>
<line x1="2010.8" y1="1476.5" x2="2010.8" y2="1489.5" stroke-width="4.6"/>
</g>
<text class="tk" transform="translate(222.0,1500.8) scale(1,1.040)" text-anchor="end">0</text>
<text class="tk" transform="translate(222.0,1215.0) scale(1,1.040)" text-anchor="end">2</text>
<text class="tk" transform="translate(222.0,929.2) scale(1,1.040)" text-anchor="end">4</text>
<text class="tk" transform="translate(222.0,643.4) scale(1,1.040)" text-anchor="end">6</text>
<text class="tk" transform="translate(222.0,357.6) scale(1,1.040)" text-anchor="end">8</text>
<text class="tk" transform="translate(222.0,71.8) scale(1,1.040)" text-anchor="end">10</text>
<text class="tk" transform="translate(266.5,1584.6) scale(1,1.040)" text-anchor="middle">0.05</text>
<text class="tk" transform="translate(447.4,1584.6) scale(1,1.040)" text-anchor="middle">0.1</text>
<text class="tk" transform="translate(628.2,1584.6) scale(1,1.040)" text-anchor="middle">0.2</text>
<text class="tk" transform="translate(867.3,1584.6) scale(1,1.040)" text-anchor="middle">0.5</text>
<text class="tk" transform="translate(1048.2,1584.6) scale(1,1.040)" text-anchor="middle">1</text>
<text class="tk" transform="translate(1229.1,1584.6) scale(1,1.040)" text-anchor="middle">2</text>
<text class="tk" transform="translate(1468.2,1584.6) scale(1,1.040)" text-anchor="middle">5</text>
<text class="tk" transform="translate(1649.0,1584.6) scale(1,1.040)" text-anchor="middle">10</text>
<text class="tk" transform="translate(1829.9,1584.6) scale(1,1.040)" text-anchor="middle">20</text>
<text class="tk" transform="translate(2069.0,1584.6) scale(1,1.040)" text-anchor="middle">50</text>
<text class="an" transform="translate(1048.0,1677.0) scale(1,1.040)" text-anchor="start">Size, <tspan class="mu">µ</tspan>m</text>
<text class="an" transform="translate(88.7,1052.5) rotate(-90) scale(1,1.040)" text-anchor="start">Frequency, %</text>
<rect x="274" y="64.8" width="147.6" height="73" fill="url(#l1)"/>
<line x1="274" y1="64.8" x2="421.6" y2="64.8" stroke="#000" stroke-width="1" stroke-dasharray="1,1" opacity="0.7"/>
<line x1="274" y1="137.8" x2="421.6" y2="137.8" stroke="#000" stroke-width="1" stroke-dasharray="1,1" opacity="0.7"/>
<rect x="274" y="161.0" width="147.6" height="73" fill="url(#l2)"/>
<line x1="274" y1="161.0" x2="421.6" y2="161.0" stroke="#000" stroke-width="1" stroke-dasharray="1,1" opacity="0.7"/>
<line x1="274" y1="234.0" x2="421.6" y2="234.0" stroke="#000" stroke-width="1" stroke-dasharray="1,1" opacity="0.7"/>
<rect x="274" y="259.0" width="147.6" height="73" fill="url(#l3)"/>
<line x1="274" y1="259.0" x2="421.6" y2="259.0" stroke="#000" stroke-width="1" stroke-dasharray="1,1" opacity="0.7"/>
<line x1="274" y1="332.0" x2="421.6" y2="332.0" stroke="#000" stroke-width="1" stroke-dasharray="1,1" opacity="0.7"/>
<rect x="274" y="356.9" width="147.6" height="73" fill="url(#l4)"/>
<line x1="274" y1="356.9" x2="421.6" y2="356.9" stroke="#000" stroke-width="1" stroke-dasharray="1,1" opacity="0.7"/>
<line x1="274" y1="429.9" x2="421.6" y2="429.9" stroke="#000" stroke-width="1" stroke-dasharray="1,1" opacity="0.7"/>
<text class="lg" transform="translate(441.0,123.5) scale(1,1.040)" text-anchor="start">Al<tspan class="sb" dy="18.27">2</tspan><tspan dy="-18.27">O</tspan><tspan class="sb" dy="18.27">3</tspan><tspan dy="-18.27"> inital - 1</tspan></text>
<text class="lg" transform="translate(441.0,221.9) scale(1,1.040)" text-anchor="start">ZrO<tspan class="sb" dy="18.27">2</tspan><tspan dy="-18.27"> initial - 2</tspan></text>
<text class="lg" transform="translate(441.0,320.3) scale(1,1.040)" text-anchor="start">Al<tspan class="sb" dy="18.27">2</tspan><tspan dy="-18.27">O</tspan><tspan class="sb" dy="18.27">3</tspan><tspan dy="-18.27"> - ZrO</tspan><tspan class="sb" dy="18.27">2</tspan><tspan dy="-18.27"> mixture after milling - 3</tspan></text>
<text class="lg" transform="translate(441.0,418.7) scale(1,1.040)" text-anchor="start">CTN after mixing - 4</text>
<text class="an" transform="translate(924.5,631.0) scale(1,1.040)" text-anchor="start">3</text>
<text class="an" transform="translate(930.5,802.4) scale(1,1.040)" text-anchor="start">2</text>
<text class="an" transform="translate(1759.0,724.7) scale(1,1.040)" text-anchor="start">1</text>
<text class="an" transform="translate(1211.5,1057.5) scale(1,1.040)" text-anchor="start">4</text>
<g stroke="#000" stroke-width="5.2" fill="none">
<line x1="923" y1="604.5" x2="805.7" y2="656" marker-end="url(#ah)"/>
<line x1="931.5" y1="782" x2="815.5" y2="834.5" marker-end="url(#ah)"/>
<line x1="1267.8" y1="1057.2" x2="1339.2" y2="1122.9" marker-end="url(#ah)"/>
</g>
</svg></body></html>
